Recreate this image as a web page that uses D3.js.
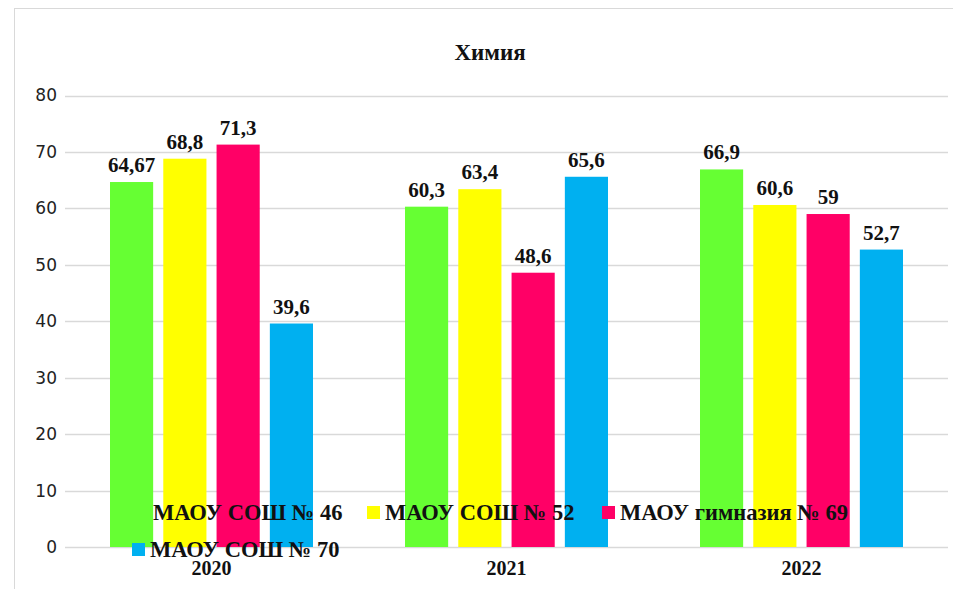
<!DOCTYPE html>
<html>
<head>
<meta charset="utf-8">
<script src="https://cdn.jsdelivr.net/npm/d3@7"></script>
<style>
  body { margin: 0; background: #fff; }
  svg { display: block; }
</style>
</head>
<body>
<div id="chart"></div>
<script>
var years = ["2020", "2021", "2022"];
var schools = ["МАОУ СОШ № 46", "МАОУ СОШ № 52", "МАОУ гимназия № 69", "МАОУ СОШ № 70"];
var colors = ["#66ff33", "#ffff00", "#ff0066", "#00b0f0"];
var s46 = [64.67, 60.3, 66.9];
var s52 = [68.8, 63.4, 60.6];
var s69 = [71.3, 48.6, 59];
var s70 = [39.6, 65.6, 52.7];
var yTicks = [0, 10, 20, 30, 40, 50, 60, 70, 80];

var series = [s46, s52, s69, s70];

var W = 953, H = 589;
var serif = "'Liberation Serif', 'Times New Roman', serif";

var svg = d3.select("#chart").append("svg")
    .attr("width", W)
    .attr("height", H);

// chart frame
svg.append("rect")
    .attr("x", 14.5).attr("y", 8.5)
    .attr("width", 960).attr("height", 600)
    .attr("fill", "none")
    .attr("stroke", "#d9d9d9");

var x0 = d3.scaleBand().domain(years).range([64, 949]).paddingInner(0).paddingOuter(0);
var x1 = d3.scaleBand().domain(d3.range(4)).range([46, 295 - 46]).paddingInner(0.19).paddingOuter(0);
var y = d3.scaleLinear().domain([0, 80]).range([547, 95.5]);

// grid
svg.append("g").selectAll("line")
    .data(yTicks)
  .enter().append("line")
    .attr("x1", 65).attr("x2", 948)
    .attr("y1", function(d){ return Math.round(y(d)) + 0.5; })
    .attr("y2", function(d){ return Math.round(y(d)) + 0.5; })
    .attr("stroke", "#d9d9d9")
    .attr("stroke-width", 1.3);

svg.append("g").selectAll("text")
    .data(yTicks)
  .enter().append("text")
    .attr("x", 57)
    .attr("y", function(d){ return y(d); })
    .attr("dy", "0.35em")
    .attr("text-anchor", "end")
    .attr("font-family", "'DejaVu Sans', sans-serif")
    .attr("font-size", "17px")
    .attr("fill", "#222")
    .text(function(d){ return d; });

// bars
var groups = svg.append("g").selectAll("g")
    .data(years)
  .enter().append("g")
    .attr("transform", function(d){ return "translate(" + x0(d) + ",0)"; });

groups.selectAll("rect")
    .data(function(d, i){ return series.map(function(s, k){ return {k: k, v: s[i]}; }); })
  .enter().append("rect")
    .attr("x", function(d){ return x1(d.k); })
    .attr("width", x1.bandwidth())
    .attr("y", function(d){ return y(d.v); })
    .attr("height", function(d){ return y(0) - y(d.v); })
    .attr("fill", function(d){ return colors[d.k]; });

groups.selectAll("text")
    .data(function(d, i){ return series.map(function(s, k){ return {k: k, v: s[i]}; }); })
  .enter().append("text")
    .attr("x", function(d){ return x1(d.k) + x1.bandwidth() / 2; })
    .attr("y", function(d){ return y(d.v) - 10; })
    .attr("text-anchor", "middle")
    .attr("font-family", serif)
    .attr("font-weight", "bold")
    .attr("font-size", "21px")
    .attr("fill", "#111")
    .text(function(d){ return String(d.v).replace(".", ","); });

// category labels
svg.append("g").selectAll("text")
    .data(years)
  .enter().append("text")
    .attr("x", function(d){ return x0(d) + x0.bandwidth() / 2; })
    .attr("y", 575)
    .attr("text-anchor", "middle")
    .attr("font-family", serif)
    .attr("font-weight", "bold")
    .attr("font-size", "20px")
    .attr("fill", "#111")
    .text(function(d){ return d; });

// title
svg.append("text")
    .attr("x", 490).attr("y", 60)
    .attr("text-anchor", "middle")
    .attr("font-family", serif)
    .attr("font-weight", "bold")
    .attr("font-size", "23px")
    .attr("fill", "#111")
    .text("Химия");

// legend (overlaps the plot like in the original)
var legendPos = [[135, 520], [367, 520], [602, 520], [132, 557]];
var leg = svg.append("g").selectAll("g")
    .data(schools)
  .enter().append("g")
    .attr("transform", function(d, i){ return "translate(" + legendPos[i][0] + "," + legendPos[i][1] + ")"; });

leg.append("rect")
    .attr("x", 0).attr("y", -14)
    .attr("width", 13).attr("height", 13)
    .attr("fill", function(d, i){ return colors[i]; });

leg.append("text")
    .attr("x", 18).attr("y", 0)
    .attr("font-family", serif)
    .attr("font-weight", "bold")
    .attr("font-size", "22.5px")
    .attr("fill", "#111")
    .text(function(d){ return d; });
</script>
</body>
</html>
